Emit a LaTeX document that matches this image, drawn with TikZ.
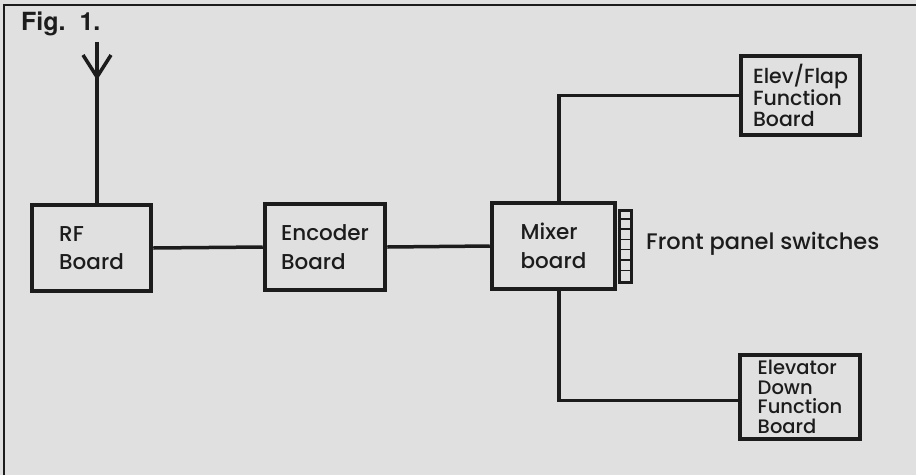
\documentclass[tikz,border=0pt]{standalone}
\usepackage{fontspec}
\setmainfont{Poppins Medium}
\newfontfamily\figfont{TeX Gyre Heros}
\definecolor{ink}{HTML}{1C1C1C}
\definecolor{paper}{HTML}{E0E0E0}
\begin{document}
\begin{tikzpicture}[x=1pt,y=-1pt,
  board/.style={draw=ink,line width=4.5pt,rectangle,inner sep=0pt,align=left,
    font=\fontsize{21.5}{28.5}\selectfont,text=ink},
  smallboard/.style={board,font=\fontsize{20.5}{21}\selectfont},
  wire/.style={draw=ink,line width=3.5pt},
  frame/.style={draw=ink,line width=2.8pt}]
\fill[paper] (0,0) rectangle (916,475);
\useasboundingbox (0,0) rectangle (916,475);
% frame
\coordinate (ftl) at (4,5);
\coordinate (ftr) at (916,5);
\coordinate (fbl) at (4,475);
\draw[frame] (fbl) -- (ftl) -- (ftr);
\node[anchor=north west,inner sep=0pt,font=\figfont\bfseries\fontsize{25}{25}\selectfont,text=ink] (fig) at (21,12) {Fig.\ \ 1.};
% boards
\node[board,minimum width=119pt,minimum height=86pt] (rf) at (91.5,248) {RF\\Board};
\node[board,minimum width=120pt,minimum height=86pt] (enc) at (325,247) {Encoder\\Board};
\node[board,minimum width=123pt,minimum height=86pt] (mix) at (553.5,246) {Mixer\\board};
\node[smallboard,minimum width=119pt,minimum height=79pt] (ef) at (800.5,95.5) {Elev/Flap\\Function\\Board};
\node[smallboard,minimum width=120pt,minimum height=84pt,font=\fontsize{19.5}{19.5}\selectfont] (ed) at (800,397) {Elevator\\Down\\Function\\Board};
% switch panel
\node[draw=ink,line width=3pt,rectangle,inner sep=0pt,minimum width=12pt,minimum height=72pt,anchor=west] (sw) at ([xshift=1pt]mix.east) {};
\foreach \i in {1,...,6}{
  \draw[ink,line width=1.5pt] ([yshift=-\i*10.3pt]sw.north west) -- ([yshift=-\i*10.3pt]sw.north east);
}
\node[anchor=west,inner sep=0pt,font=\fontsize{22.5}{22.5}\selectfont,text=ink] (fps) at (646,244) {Front panel switches};
% antenna
\coordinate (anttop) at (97,42);
\coordinate (antv) at (97,77);
\coordinate (antl) at (83,55);
\coordinate (antr) at (111,55);
\draw[wire] (anttop) -- (anttop |- rf.north);
\draw[wire,line join=miter] (antl) -- (antv) -- (antr);
% connectors
\draw[wire] (rf.east) -- (enc.west);
\draw[wire] (enc.east) -- (mix.west);
\coordinate (mtop) at (559,246);
\draw[wire,line join=miter] (mtop |- mix.north) |- (ef.west);
\draw[wire,line join=miter] (mtop |- mix.south) |- ([yshift=-3.5pt]ed.west);
\end{tikzpicture}
\end{document}
